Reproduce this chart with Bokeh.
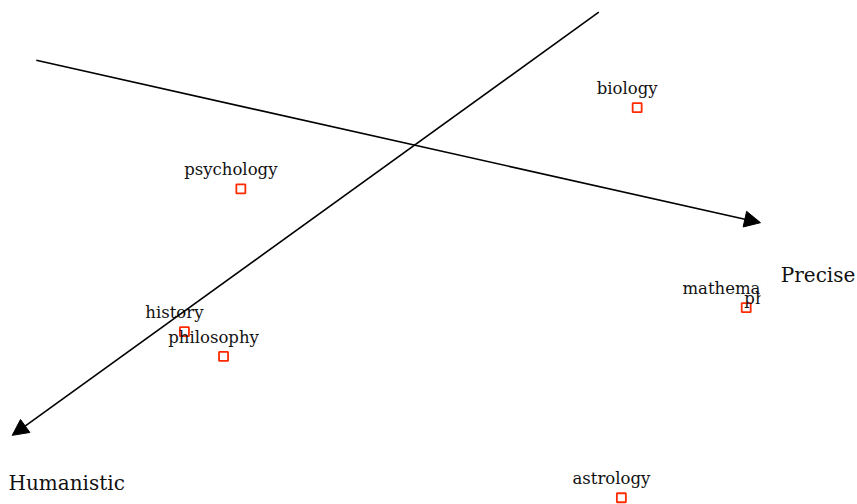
from bokeh.plotting import figure
from bokeh.models import Range1d, Arrow, NormalHead, Label, ColumnDataSource
from bokeh.core.properties import value
from bokeh.embed import file_html
from bokeh.resources import INLINE

# Item scores
subjects = ["biology", "psychology", "history", "philosophy", "mathematics", "physics", "astrology"]
score_x = [3.36, -1.91, -2.66, -2.14, 4.81, 5.33, 3.15]
score_y = [1.98, 0.90, -1.00, -1.33, -0.68, -0.81, -3.21]

# Axis arrows (start -> end)
axis_names = ["Precise", "Humanistic"]
arrow_x0 = [-4.63, 2.85]
arrow_y0 = [2.61, 3.25]
arrow_x1 = [5.00, -4.95]
arrow_y1 = [0.45, -2.38]
axis_label_x = [5.27, -5.00]
axis_label_y = [-0.24, -3.02]

# plotting window of the scores (anything right of x_clip is cut off)
x_lo, x_hi = -5.106, 6.29
y_lo, y_hi = -3.30, 3.406
x_clip = 5.0

p = figure(width=857, height=504,
           x_range=Range1d(x_lo, x_hi), y_range=Range1d(y_lo, y_hi),
           output_backend="svg", toolbar_location=None,
           x_axis_location=None, y_axis_location=None,
           min_border_left=0, min_border_right=0,
           min_border_top=0, min_border_bottom=0)
p.grid.visible = False
p.outline_line_color = None
p.background_fill_color = "white"
p.border_fill_color = "white"

src = ColumnDataSource(dict(x=score_x, y=score_y, label=subjects))

p.scatter("x", "y", source=src, marker="square", size=9,
          fill_color=None, line_color="#ff2a00", line_width=1.8)

p.text("x", "y", text="label", source=src,
       text_font=value("DejaVu Serif"), text_font_size="16.5px",
       text_color="#111111", text_align="center", text_baseline="alphabetic",
       x_offset=-10, y_offset=-19)

# clip region: hide score marks beyond the plotting window
p.quad(left=[x_clip], right=[x_hi], bottom=[y_lo], top=[y_hi],
       fill_color="white", line_color=None)

for i in range(len(axis_names)):
    p.add_layout(Arrow(x_start=arrow_x0[i], y_start=arrow_y0[i],
                       x_end=arrow_x1[i], y_end=arrow_y1[i],
                       line_color="black", line_width=1.6,
                       end=NormalHead(size=16, fill_color="black", line_color="black")))
    p.add_layout(Label(x=axis_label_x[i], y=axis_label_y[i], text=axis_names[i],
                       text_font="DejaVu Serif", text_font_size="20px",
                       text_color="#111111", text_align="left", text_baseline="alphabetic"))

open("out.html", "w").write(file_html(p, INLINE))
